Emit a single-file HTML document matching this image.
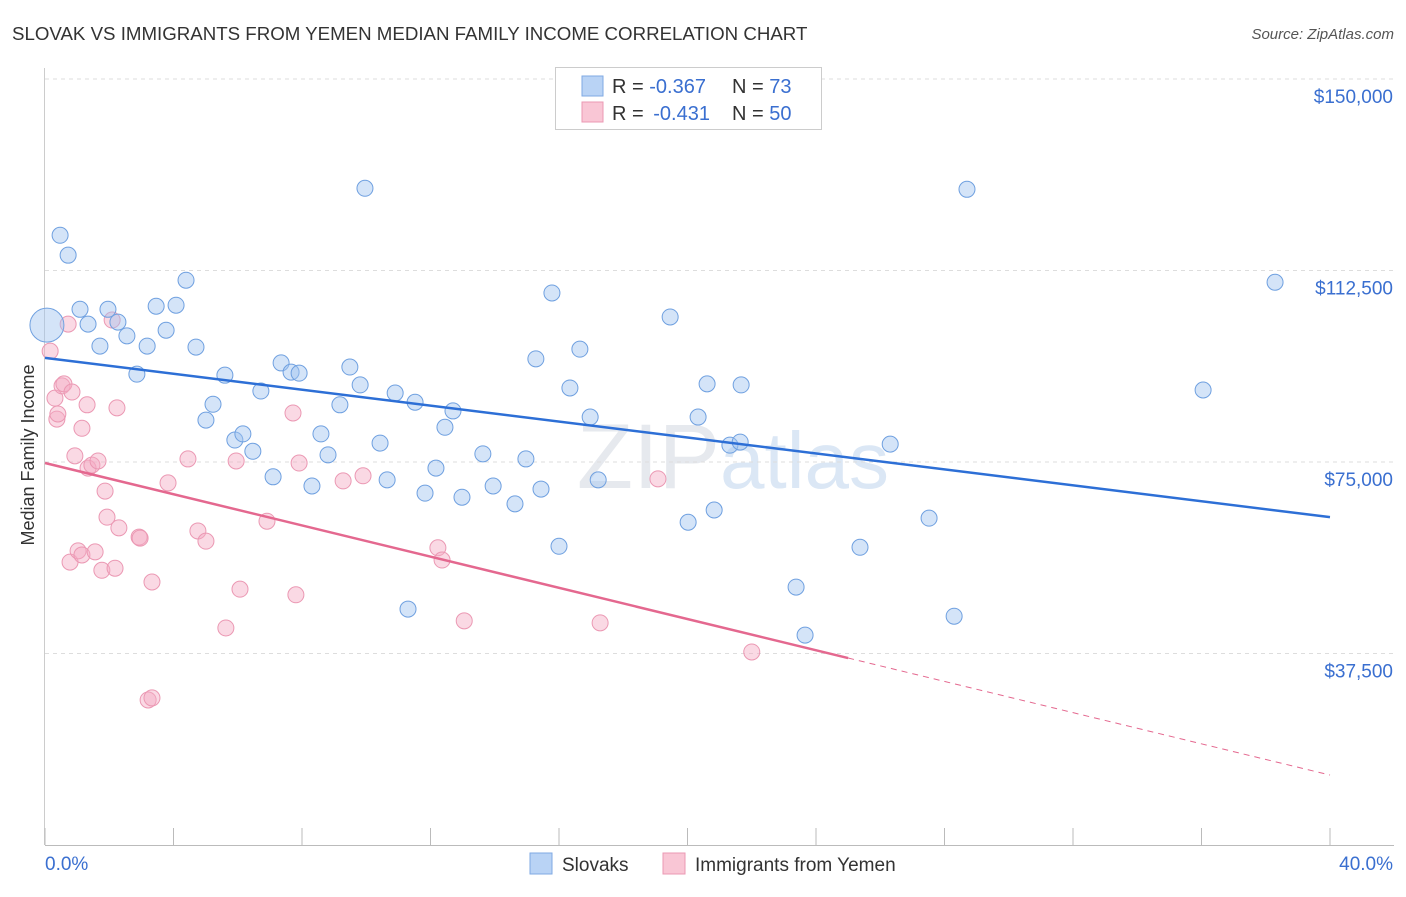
<!DOCTYPE html>
<html><head><meta charset="utf-8"><style>
body{margin:0;background:#fff;font-family:"Liberation Sans",sans-serif;}
svg text{font-family:"Liberation Sans",sans-serif;}
</style></head><body>
<svg id="c" width="1406" height="892" xmlns="http://www.w3.org/2000/svg">
<text x="12" y="40" font-size="18.7" fill="#333">SLOVAK VS IMMIGRANTS FROM YEMEN MEDIAN FAMILY INCOME CORRELATION CHART</text>
<text x="1394" y="39" font-size="15" fill="#555" text-anchor="end" font-style="italic">Source: ZipAtlas.com</text>
<text transform="translate(34,455) rotate(-90)" font-size="18" fill="#333" text-anchor="middle">Median Family Income</text>
<text x="720" y="488" font-size="92" fill="#e6e9ee" text-anchor="end" font-family="Liberation Serif">ZIP</text>
<text x="720" y="488" font-size="80" fill="#dbe7f5">atlas</text>
<g id="grid"></g><g id="axes"></g><g id="marks"></g>
<g>
<rect x="555.5" y="67.5" width="266" height="62" fill="#fff" stroke="#ccc"/>
<rect x="582" y="76" width="21" height="20" fill="#b9d3f5" stroke="#7fa9e3"/>
<rect x="582" y="102" width="21" height="20" fill="#f9c6d5" stroke="#eb98b3"/>
<text x="612" y="93" font-size="20" fill="#333">R = <tspan fill="#3a6fd0">-0.367</tspan><tspan x="732">N = </tspan><tspan fill="#3a6fd0">73</tspan></text>
<text x="612" y="120" font-size="20" fill="#333">R = <tspan fill="#3a6fd0" dx="4">-0.431</tspan><tspan x="732">N = </tspan><tspan fill="#3a6fd0">50</tspan></text>
</g>
<g>
<rect x="530" y="853" width="22" height="21" fill="#b9d3f5" stroke="#7fa9e3"/>
<text x="562" y="871" font-size="19" fill="#333">Slovaks</text>
<rect x="663" y="853" width="22" height="21" fill="#f9c6d5" stroke="#eb98b3"/>
<text x="695" y="871" font-size="19" fill="#333">Immigrants from Yemen</text>
</g>
</svg>
<script>
const yTicks=[37500,75000,112500,150000];
const yTickLabels=["$37,500","$75,000","$112,500","$150,000"];
const blueX=[0.06,0.47,0.72,1.09,1.34,1.71,1.96,2.27,2.55,2.86,3.18,3.46,3.77,4.08,4.39,4.70,5.01,5.23,5.60,5.91,6.16,6.47,6.72,7.10,7.35,7.66,7.91,8.31,8.59,8.81,9.18,9.49,9.81,9.96,10.43,10.65,10.90,11.30,11.52,11.83,12.17,12.45,12.70,12.98,13.63,13.95,14.63,14.97,15.44,15.78,15.28,16.00,16.34,16.65,16.97,17.22,19.46,20.02,20.33,20.61,20.83,21.32,21.67,21.64,23.38,23.66,25.37,26.31,27.52,28.30,28.70,36.05,38.29];
const blueY=[101.8,119.4,115.5,104.9,102.0,97.7,104.9,102.4,99.7,92.2,97.7,105.5,100.8,105.7,110.6,97.5,83.2,86.3,92.0,79.3,80.5,77.1,88.9,72.1,94.4,92.6,92.4,70.3,80.5,76.4,86.2,93.6,90.1,128.6,78.7,71.5,88.5,46.2,86.7,68.9,73.8,81.8,85.0,68.1,76.6,70.3,66.8,75.6,69.7,108.1,95.2,58.5,89.5,97.1,83.8,71.5,103.4,63.2,83.8,90.3,65.6,78.3,90.1,78.9,50.5,41.1,58.3,78.5,64.0,44.8,128.4,89.1,110.2];
const pinkX=[0.16,0.31,0.37,0.40,0.53,0.59,0.72,0.78,0.84,0.93,1.03,1.15,1.15,1.31,1.34,1.46,1.56,1.65,1.77,1.87,1.93,2.18,2.09,2.24,2.30,2.93,2.96,3.21,3.33,3.33,3.83,4.45,4.76,5.01,5.63,5.95,6.07,6.91,7.72,7.81,7.91,9.28,9.90,12.23,12.36,13.05,17.28,19.08,22.00];
const pinkY=[96.7,87.5,83.4,84.4,89.9,90.3,102.0,55.4,88.7,76.2,57.6,56.8,81.6,86.2,73.8,74.4,57.4,75.2,53.8,69.3,64.2,54.2,102.8,85.6,62.1,60.3,60.1,28.4,28.8,51.5,70.9,75.6,61.5,59.5,42.5,75.2,50.1,63.4,84.6,49.0,74.8,71.3,72.3,58.2,55.8,43.9,43.5,71.7,37.8];
const blueTrend=[95.4,64.2];
const pinkTrend=[74.8,13.7];
const pinkSolidEnd=25.0;
const NS="http://www.w3.org/2000/svg";
const X=p=>45+p/40*1285;
const Y=k=>845-k*1000/150000*766;
function mk(tag,a,parent){const e=document.createElementNS(NS,tag);for(const k in a)e.setAttribute(k,a[k]);document.getElementById(parent).appendChild(e);return e;}
yTicks.forEach((t,i)=>{
 const l=mk('line',{x1:45,x2:1394,y1:Y(t/1000),y2:Y(t/1000),stroke:'#ddd','stroke-dasharray':'4,4'},'grid');
 
 
 const tx=mk('text',{x:1393,y:Y(t/1000)+24,'font-size':19,fill:'#3a6fd0','text-anchor':'end'},'axes');
 tx.textContent=yTickLabels[i];
 
 
});
const ax=mk('line',{x1:45,x2:1394,y1:845.5,y2:845.5,stroke:'#bbb'},'axes');


const ay=mk('line',{x1:44.5,x2:44.5,y1:68,y2:845,stroke:'#ccc'},'axes');


for(let i=0;i<=10;i++){const t=mk('line',{x1:X(i*4),x2:X(i*4),y1:828,y2:845,stroke:'#bbb'},'axes');
 
 }
const x0=mk('text',{x:45,y:870,'font-size':19,fill:'#3a6fd0'},'axes');x0.textContent='0.0%';


const x1=mk('text',{x:1393,y:870,'font-size':19,fill:'#3a6fd0','text-anchor':'end'},'axes');x1.textContent='40.0%';


pinkX.forEach((v,i)=>{const c=mk('circle',{cx:X(v),cy:Y(pinkY[i]),r:8,fill:'rgba(245,170,195,0.45)',stroke:'#eb98b3','stroke-width':1},'marks');
 
 });
blueX.forEach((v,i)=>{const c=mk('circle',{cx:X(v),cy:Y(blueY[i]),r:i===0?17:8,fill:'rgba(160,195,240,0.45)',stroke:'#6fa0e0','stroke-width':1},'marks');
 
 });
const bt=mk('line',{x1:X(0),y1:Y(blueTrend[0]),x2:X(40),y2:Y(blueTrend[1]),stroke:'#2d6fd6','stroke-width':2.5},'marks');


const pAt=p=>pinkTrend[0]+(pinkTrend[1]-pinkTrend[0])*p/40;
const pt=mk('line',{x1:X(0),y1:Y(pinkTrend[0]),x2:X(pinkSolidEnd),y2:Y(pAt(pinkSolidEnd)),stroke:'#e4688f','stroke-width':2.5},'marks');


const pd=mk('line',{x1:X(pinkSolidEnd),y1:Y(pAt(pinkSolidEnd)),x2:X(40),y2:Y(pinkTrend[1]),stroke:'#e4688f','stroke-width':1,'stroke-dasharray':'6,5'},'marks');


</script>
</body></html>
